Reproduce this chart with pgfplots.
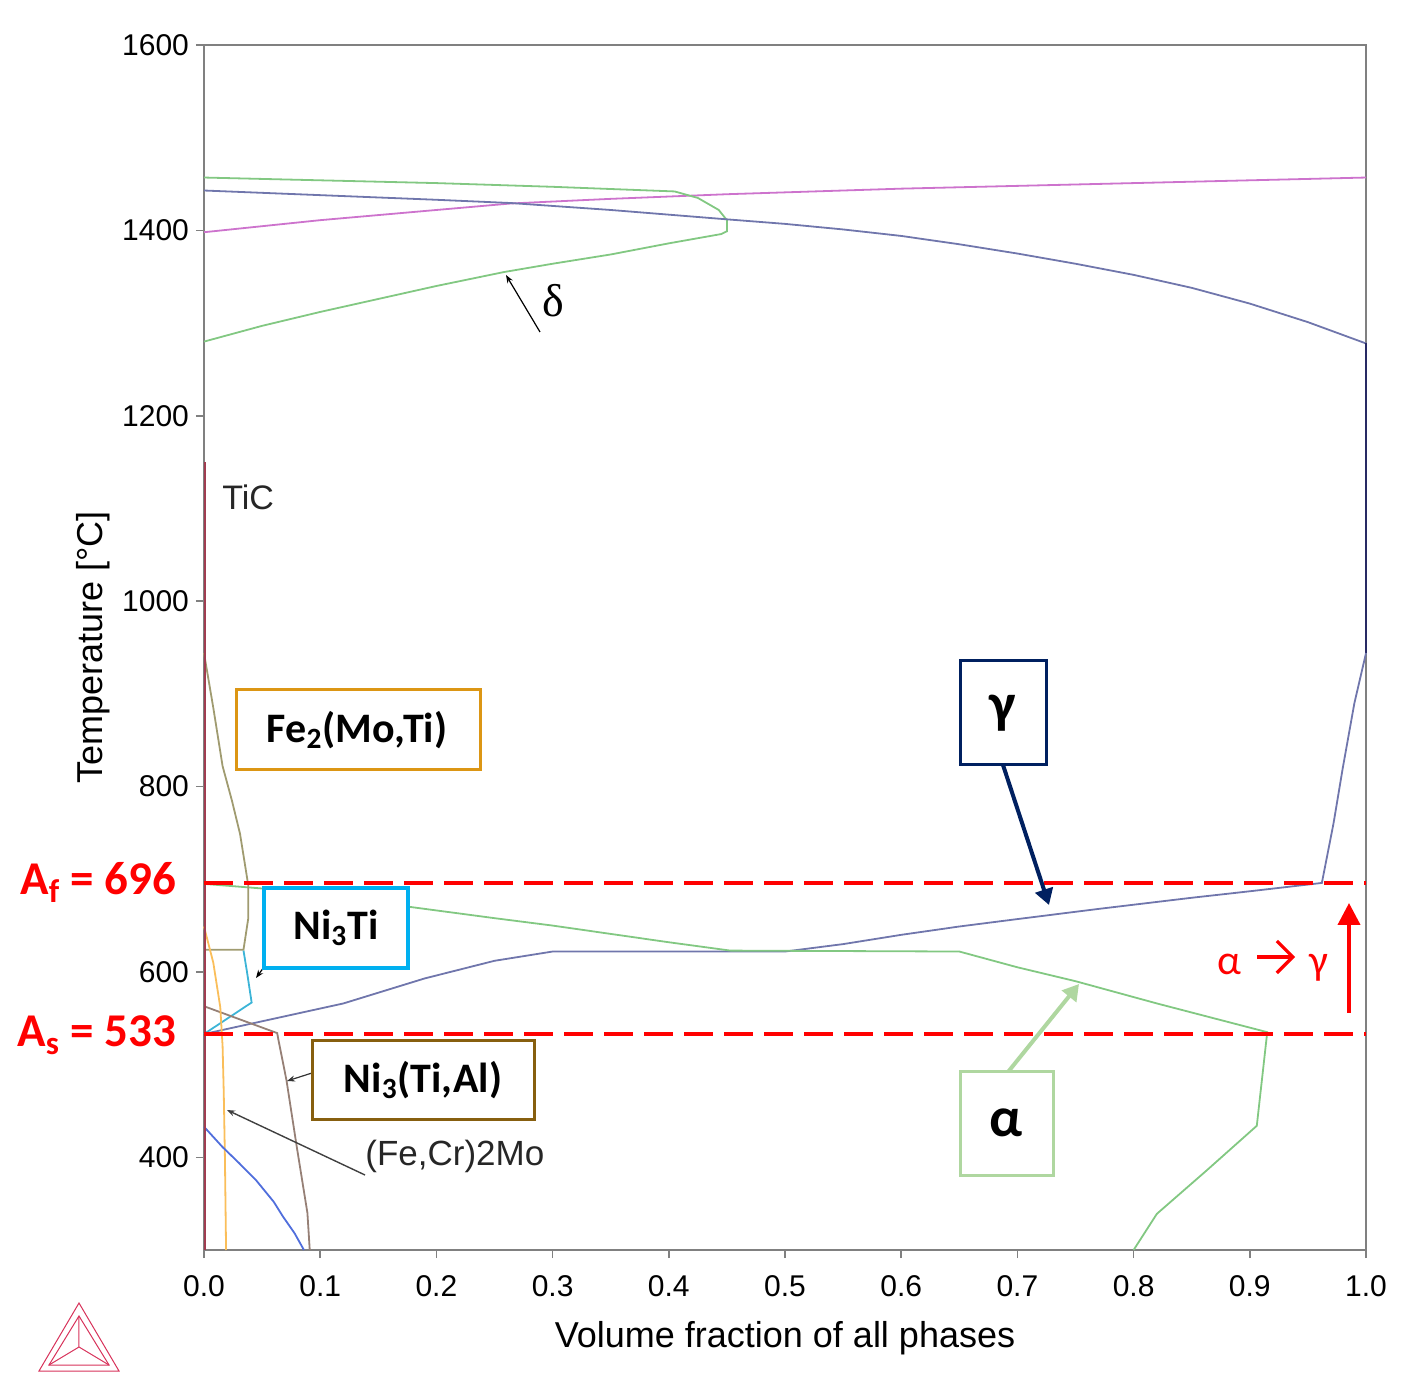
\documentclass[border=0pt]{standalone}
\usepackage{fontspec}
\setmainfont{Liberation Sans}
\newfontfamily\calibri{Carlito}
\newfontfamily\timesf{Liberation Serif}
\usepackage{pgfplots}
\pgfplotsset{compat=1.18}
\usetikzlibrary{arrows.meta}

\definecolor{liq}{RGB}{205,115,205}
\definecolor{gam}{RGB}{112,118,172}
\definecolor{gamdark}{RGB}{40,42,100}
\definecolor{grn}{RGB}{130,200,130}
\definecolor{olive}{RGB}{160,155,112}
\definecolor{ni3ti}{RGB}{60,180,215}
\definecolor{ni3tial}{RGB}{150,128,118}
\definecolor{feorange}{RGB}{250,190,90}
\definecolor{blue2}{RGB}{80,110,220}
\definecolor{tic}{RGB}{160,60,80}
\definecolor{boxfe}{RGB}{220,150,20}
\definecolor{boxni}{RGB}{0,176,240}
\definecolor{boxbr}{RGB}{135,95,15}
\definecolor{boxg}{RGB}{0,32,96}
\definecolor{boxa}{RGB}{175,215,160}
\definecolor{logo}{RGB}{215,50,90}
\definecolor{axgray}{RGB}{128,128,128}

\begin{document}
\begin{tikzpicture}
\begin{axis}[
  at={(0,0)}, anchor=south west,
  scale only axis, width=581pt, height=602.5pt,
  xmin=0, xmax=1, ymin=300, ymax=1600,
  xtick={0,0.1,0.2,0.3,0.4,0.5,0.6,0.7,0.8,0.9,1},
  xticklabels={0.0,0.1,0.2,0.3,0.4,0.5,0.6,0.7,0.8,0.9,1.0},
  ytick={400,600,800,1000,1200,1400,1600},
  yticklabels={400,600,800,1000,1200,1400,1600},
  tick align=outside, tick pos=left,
  major tick length=4pt,
  axis line style={axgray, line width=1pt},
  tick style={axgray, line width=0.8pt},
  ticklabel style={font=\fontsize{15}{18}\selectfont},
  xticklabel style={yshift=-5pt},
  xlabel={Volume fraction of all phases},
  ylabel={Temperature [°C]},
  label style={font=\fontsize{18}{21}\selectfont},
  xlabel style={anchor=center, at={(axis description cs:0.5,0)}, yshift=-44pt},
  ylabel style={anchor=center, at={(axis description cs:0,0.5)}, yshift=55.5pt},
  clip=false,
  every axis plot/.append style={line width=0.9pt, no marks},
]
% liquid
\addplot[liq] coordinates {(0,1398) (0.1,1411) (0.2,1422) (0.264,1429) (0.35,1434) (0.45,1439) (0.6,1445) (0.8,1451) (1.0,1457)};
% delta
\addplot[grn] coordinates {(0,1457) (0.1,1454) (0.2,1451) (0.3,1447) (0.405,1442) (0.425,1435) (0.443,1422) (0.45,1411) (0.45,1399) (0.445,1396) (0.4,1386) (0.35,1374) (0.3,1364) (0.258,1355) (0.2,1340) (0.15,1326) (0.1,1312) (0.05,1297) (0,1280)};
% gamma
\addplot[gam] coordinates {(0,1443) (0.1,1438) (0.2,1433) (0.264,1429.5) (0.35,1422) (0.449,1412) (0.5,1407) (0.55,1401) (0.6,1394) (0.65,1385) (0.7,1375) (0.75,1364) (0.8,1352) (0.85,1338) (0.9,1321) (0.95,1301) (1.0,1278)};
\addplot[gamdark] coordinates {(1.0,1278) (1.0,944)};
\addplot[gam] coordinates {(1.0,944) (0.99,890) (0.98,820) (0.972,760) (0.962,696) (0.9,687) (0.85,680) (0.77,668) (0.7,657) (0.65,649) (0.6,640) (0.55,630) (0.5,622) (0.3,622) (0.25,612) (0.19,593) (0.12,566) (0,533)};
% alpha
\addplot[grn] coordinates {(0,695) (0.05,690) (0.1,682) (0.178,670) (0.25,658) (0.3,650) (0.35,641) (0.4,632) (0.453,623) (0.65,622) (0.7,605) (0.75,590) (0.82,566) (0.915,535) (0.906,434) (0.863,386) (0.82,339) (0.8,300)};
% Fe2(Mo,Ti)
\addplot[olive] coordinates {(0,944) (0.008,885) (0.016,822) (0.024,785) (0.031,749) (0.036,710) (0.038,694) (0.038,657) (0.034,624) (0,624)};
% Ni3Ti
\addplot[ni3ti] coordinates {(0.034,623) (0.037,600) (0.041,567) (0,533)};
% Ni3(Ti,Al)
\addplot[ni3tial] coordinates {(0,563) (0.063,534) (0.064,527) (0.071,483) (0.08,410) (0.089,340) (0.091,300)};
% (Fe,Cr)2Mo
\addplot[feorange] coordinates {(0,649) (0.008,610) (0.014,562) (0.016,520) (0.017,470) (0.018,400) (0.019,300)};
% second blue phase
\addplot[blue2] coordinates {(0,433) (0.016,411) (0.03,394) (0.045,375) (0.06,352) (0.068,336) (0.078,318) (0.086,300)};
% TiC
\addplot[tic] coordinates {(0.001,1150) (0.001,300)};
% As / Af
\addplot[red, line width=2pt, dash pattern=on 14.5pt off 5.5pt] coordinates {(0,696) (1,696)};
\addplot[red, line width=2pt, dash pattern=on 14.5pt off 5.5pt] coordinates {(0,533) (1,533)};
\end{axis}

% annotations in pixel coordinates of the reference
\begin{scope}[x=0.5pt, y=-0.5pt, shift={(-102pt,625pt)}]
\node[anchor=base west, text=red, inner sep=0pt, font=\calibri\bfseries\fontsize{23.5}{26}\selectfont] at (20,895) {A\textsubscript{f} = 696};
\node[anchor=base west, text=red, inner sep=0pt, font=\calibri\bfseries\fontsize{23.5}{26}\selectfont] at (17,1047) {A\textsubscript{s} = 533};

\draw[boxfe, line width=1.5pt, fill=white] (236,690) rectangle (480,770);
\node[font=\calibri\bfseries\fontsize{21}{24}\selectfont] at (357,730) {Fe\textsubscript{2}(Mo,Ti)};

\draw[-{Stealth[length=4pt,width=3pt]}, line width=0.6pt] (264,967) -- (256,978);
\draw[boxni, line width=2pt, fill=white] (264,888) rectangle (408,968);
\node[font=\calibri\bfseries\fontsize{21}{24}\selectfont] at (336,928) {Ni\textsubscript{3}Ti};

\draw[-{Stealth[length=4pt,width=3pt]}, line width=0.6pt, black!80] (312,1073) -- (287,1081);
\draw[boxbr, line width=1.5pt, fill=white] (312,1041) rectangle (534,1120);
\node[font=\calibri\bfseries\fontsize{21}{24}\selectfont] at (423,1080) {Ni\textsubscript{3}(Ti,Al)};

\draw[-{Stealth[length=4pt,width=3pt]}, line width=0.7pt, black!75] (365,1175) -- (227,1110);
\node[anchor=base west, inner sep=0pt, font=\fontsize{17.5}{20}\selectfont, black!85] at (365,1166) {(Fe,Cr)2Mo};
\node[anchor=base west, inner sep=0pt, font=\fontsize{17}{20}\selectfont, black!85] at (222,510) {TiC};

\draw[-{Stealth[length=4pt,width=3pt]}, line width=0.6pt] (540,332) -- (506,275);
\node[anchor=base, inner sep=0pt, font=\timesf\fontsize{23}{26}\selectfont] at (553.5,317) {δ};

\draw[-{Triangle[length=8pt,width=9pt]}, boxg, line width=2pt] (1003,765) -- (1049,905);
\draw[boxg, line width=1.5pt, fill=white] (960,661) rectangle (1046,765);
\node[font=\calibri\bfseries\fontsize{28}{30}\selectfont] at (1003,713) {γ};

\draw[-{Triangle[length=8pt,width=9pt]}, boxa, line width=2pt] (1008,1072) -- (1079,984);
\draw[boxa, line width=1.5pt, fill=white] (960,1072) rectangle (1053,1175);
\node[font=\calibri\bfseries\fontsize{28}{30}\selectfont] at (1006,1123) {α};

\draw[-{Triangle[length=11pt,width=11pt]}, red, line width=2pt] (1349,1013) -- (1349,903);
\node[anchor=base west, inner sep=0pt, text=red, font=\calibri\fontsize{21}{22}\selectfont] at (1217,975) {α};
\draw[-{Straight Barb[length=8pt,width=16pt]}, red, line width=1.6pt] (1257,957) -- (1295,957);
\node[anchor=base west, inner sep=0pt, text=red, font=\calibri\fontsize{21}{22}\selectfont] at (1309,975) {γ};

\begin{scope}[logo, line width=0.5pt, double=white, double distance=1pt]
\draw (79,1303) -- (39,1371) -- (119,1371) -- cycle;
\draw (79,1316) -- (79,1347) -- (49,1365);
\draw (79,1347) -- (109,1365);
\draw (79,1316) -- (49,1365) -- (109,1365) -- cycle;
\end{scope}
\end{scope}

\pgfresetboundingbox
\path[use as bounding box] (-102pt,-70pt) rectangle (603.5pt,625pt);
\end{tikzpicture}
\end{document}
